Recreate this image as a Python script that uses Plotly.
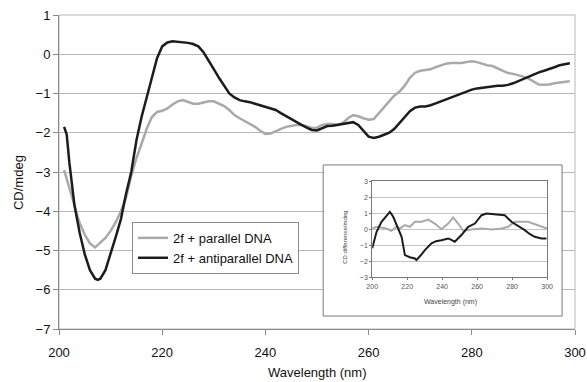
import plotly.graph_objects as go

# ---------------- data ----------------
wl_anti = [201, 201.5, 202, 203, 204, 205, 206, 207, 207.5, 208, 209, 210, 211, 212, 213, 214, 215,
           216, 217, 218, 219, 220, 221, 222, 223, 224, 225, 226, 227, 228, 229, 230, 231, 232,
           233, 234, 235, 236, 237, 238, 239, 240, 241, 242, 243, 244, 245, 246, 247, 248, 249,
           250, 251, 252, 253, 254, 255, 256, 257, 258, 259, 260, 261, 262, 263, 264, 265, 266,
           267, 268, 269, 270, 271, 272, 273, 274, 275, 276, 277, 278, 279, 280, 281, 282, 283,
           284, 285, 286, 287, 288, 289, 290, 291, 292, 293, 294, 295, 296, 297, 298, 299]
cd_anti = [-1.85, -2.05, -2.75, -3.85, -4.55, -5.1, -5.5, -5.72, -5.75, -5.72, -5.5, -5.1, -4.65,
           -4.2, -3.55, -3.0, -2.2, -1.6, -1.1, -0.55, -0.1, 0.2, 0.3, 0.33, 0.32, 0.3, 0.29, 0.26,
           0.2, 0.05, -0.15, -0.38, -0.6, -0.8, -1.0, -1.1, -1.17, -1.2, -1.22, -1.26, -1.3, -1.35,
           -1.38, -1.42, -1.5, -1.58, -1.65, -1.72, -1.8, -1.87, -1.93, -1.94, -1.88, -1.83, -1.82,
           -1.8, -1.78, -1.76, -1.73, -1.8, -1.95, -2.1, -2.13, -2.1, -2.05, -2.0, -1.9, -1.75,
           -1.6, -1.45, -1.36, -1.33, -1.33, -1.3, -1.25, -1.2, -1.15, -1.08, -1.03, -1.0, -0.95,
           -0.9, -0.87, -0.85, -0.84, -0.82, -0.8, -0.8, -0.78, -0.74, -0.68, -0.62, -0.57, -0.52,
           -0.46, -0.42, -0.38, -0.33, -0.28, -0.25, -0.23]

wl_par = list(range(201, 300))
cd_par = [-2.95, -3.4, -3.9, -4.3, -4.6, -4.82, -4.92, -4.8, -4.68, -4.5, -4.28, -4.0, -3.65,
          -3.1, -2.65, -2.28, -1.9, -1.6, -1.47, -1.44, -1.38, -1.28, -1.2, -1.17, -1.22, -1.26,
          -1.26, -1.23, -1.2, -1.2, -1.25, -1.32, -1.42, -1.55, -1.63, -1.7, -1.77, -1.85, -1.95,
          -2.03, -2.02, -1.95, -1.9, -1.85, -1.82, -1.8, -1.8, -1.83, -1.88, -1.87, -1.8, -1.78,
          -1.78, -1.8, -1.75, -1.63, -1.55, -1.58, -1.63, -1.67, -1.65, -1.5, -1.33, -1.18, -1.05,
          -0.95, -0.8, -0.6, -0.47, -0.42, -0.4, -0.38, -0.33, -0.28, -0.24, -0.22, -0.22, -0.22,
          -0.2, -0.18, -0.2, -0.25, -0.28, -0.3, -0.36, -0.42, -0.48, -0.5, -0.53, -0.57, -0.62,
          -0.7, -0.77, -0.78, -0.77, -0.74, -0.72, -0.7, -0.69]

# inset: CD difference
wl_diff_anti = [200, 202.5, 205.3, 208, 210.1, 212, 214.5, 216.8, 218.7, 221.5, 224.4, 225.3,
                228, 230.1, 233.9, 236.5, 239.6, 243.4, 245, 247.2, 251, 254.9, 258.7, 262.5,
                265.3, 270.1, 275.8, 279.6, 283.5, 287.2, 290, 292.9, 296.8, 299.6]
diff_anti = [-1.2, -0.17, 0.46, 0.85, 1.08, 0.77, 0.15, -0.48, -1.62, -1.75, -1.83, -1.93,
             -1.6, -1.31, -0.89, -0.75, -0.69, -0.58, -0.65, -0.79, -0.37, 0.15, 0.35, 0.87,
             0.98, 0.93, 0.87, 0.46, 0.2, -0.06, -0.3, -0.48, -0.58, -0.58]
wl_diff_par = [200, 202.5, 205, 208.2, 211, 213.9, 215.8, 218.7, 221.5, 224.4, 228.2, 232,
               235.8, 239.6, 243.4, 246.3, 249.1, 252, 256.8, 262.5, 268.2, 274, 277.7, 281.5,
               289.1, 294.9, 299.9]
diff_par = [0.04, 0.15, 0.1, 0.04, -0.1, 0.15, 0.04, 0.25, 0.15, 0.46, 0.46, 0.6, 0.35, 0.0,
            0.35, 0.73, 0.35, -0.1, -0.02, 0.04, -0.02, 0.04, 0.15, 0.46, 0.46, 0.25, 0.04]

x_ticks = [200, 220, 240, 260, 280, 300]
y_ticks = [1, 0, -1, -2, -3, -4, -5, -6, -7]
inset_y_ticks = [3, 2, 1, 0, -1, -2, -3]

GRAY = "#a9a9a9"
BLACK = "#1c1c1c"
FONT = "Liberation Sans, Arial, sans-serif"

fig = go.Figure()
fig.add_trace(go.Scatter(x=wl_par, y=cd_par, mode="lines", name="2f + parallel DNA",
                         line=dict(color=GRAY, width=2.5)))
fig.add_trace(go.Scatter(x=wl_anti, y=cd_anti, mode="lines", name="2f + antiparallel DNA",
                         line=dict(color=BLACK, width=2.5)))
fig.add_trace(go.Scatter(x=wl_diff_par, y=diff_par, mode="lines", showlegend=False,
                         line=dict(color=GRAY, width=2), xaxis="x2", yaxis="y2"))
fig.add_trace(go.Scatter(x=wl_diff_anti, y=diff_anti, mode="lines", showlegend=False,
                         line=dict(color=BLACK, width=2), xaxis="x2", yaxis="y2"))

fig.update_layout(
    width=587, height=382,
    margin=dict(l=59, r=12, t=15, b=53, autoexpand=False),
    paper_bgcolor="white", plot_bgcolor="white",
    font=dict(family=FONT, size=13, color="#111"),
    xaxis=dict(range=[200, 300], tickvals=x_ticks, showgrid=False, showline=True,
               linecolor="#8a8a8a", linewidth=1, ticks="outside", ticklen=5, tickcolor="#8a8a8a",
               zeroline=False, ticklabelstandoff=6, tickfont=dict(size=13), automargin=False,
               ticklabeloverflow="allow"),
    yaxis=dict(range=[-7, 1], tickvals=y_ticks, showgrid=True, gridcolor="#b8b8b8",
               gridwidth=1, showline=True, linecolor="#8a8a8a", linewidth=1, ticks="outside",
               ticklen=5, tickcolor="#8a8a8a", zeroline=False, tickfont=dict(size=13),
               automargin=False, ticklabeloverflow="allow"),
    xaxis2=dict(domain=[0.607, 0.946], anchor="y2", range=[200, 300], dtick=20,
                showgrid=False, showline=True, mirror=True, linecolor="#777", linewidth=1,
                ticks="outside", ticklen=2, tickcolor="#777", zeroline=False,
                tickfont=dict(size=7, color="#555"), automargin=False),
    yaxis2=dict(domain=[0.165, 0.471], anchor="x2", range=[-3, 3], tickvals=inset_y_ticks,
                showgrid=True, gridcolor="#c4c4c4", gridwidth=1, showline=True, mirror=True,
                linecolor="#777", linewidth=1, ticks="outside", ticklen=2, tickcolor="#777",
                zeroline=False, tickfont=dict(size=7, color="#555"), automargin=False),
    legend=dict(x=0.1415, y=0.341, xanchor="left", yanchor="top", bgcolor="white",
                bordercolor="#8a8a8a", borderwidth=1, font=dict(size=13, color="#111"),
                tracegroupgap=0, itemwidth=30),
    showlegend=True,
)

# plot-area frame (right edge) and the inset panel box
fig.add_shape(type="rect", xref="paper", yref="paper", x0=0, x1=1, y0=0, y1=1,
              line=dict(color="#b8b8b8", width=1), layer="below")
fig.add_shape(type="rect", xref="x", yref="y", x0=251.2, x1=297.5, y0=-6.67, y1=-2.82,
              line=dict(color="#7a7a7a", width=1), fillcolor="white", layer="between")

fig.add_annotation(text="CD/mdeg", xref="paper", yref="paper", x=-0.0795, y=0.468,
                   xanchor="center", yanchor="middle",
                   textangle=-90, showarrow=False, font=dict(size=13, color="#111"))
fig.add_annotation(text="Wavelength (nm)", xref="paper", yref="paper", x=0.5, y=-0.14,
                   xanchor="center", yanchor="middle",
                   showarrow=False, font=dict(size=13, color="#111"))
fig.add_annotation(text="CD difference/mdeg", xref="paper", yref="paper", x=0.554, y=0.293,
                   xanchor="center", yanchor="middle",
                   textangle=-90, showarrow=False, font=dict(size=6, color="#444"))
fig.add_annotation(text="Wavelength (nm)", xref="paper", yref="paper", x=0.758, y=0.086,
                   xanchor="center", yanchor="middle",
                   showarrow=False, font=dict(size=7, color="#444"))

fig.write_html("out.html", config={"displayModeBar": False},
               post_script="document.body.style.margin='0';document.body.style.overflow='hidden';")
